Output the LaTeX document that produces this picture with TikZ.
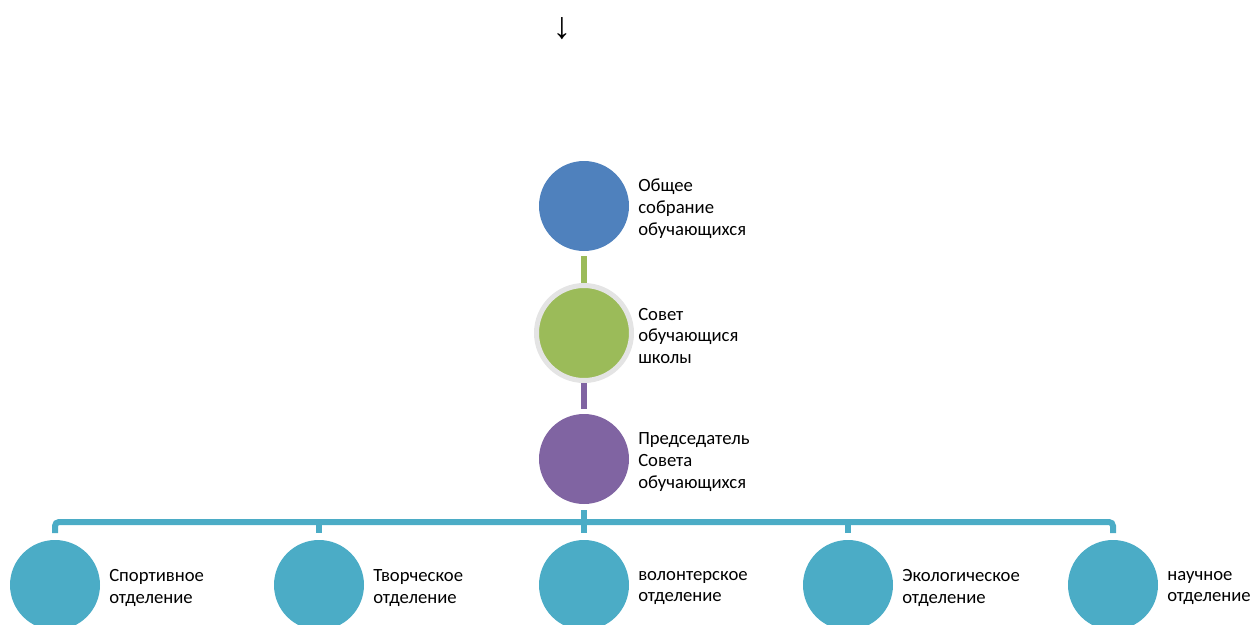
\documentclass[tikz,border=0pt]{standalone}
\usepackage{fontspec}
\setmainfont{Carlito}
\newfontfamily\arrowfont{Liberation Serif}
\definecolor{cblue}{HTML}{4F81BD}
\definecolor{cgreen}{HTML}{9BBB59}
\definecolor{cpurple}{HTML}{8064A2}
\definecolor{cteal}{HTML}{4BACC6}
\definecolor{cring}{HTML}{E4E4E4}
\begin{document}
\begin{tikzpicture}[x=0.75pt,y=-0.75pt,
  disc/.style={circle,draw=none,fill=#1,minimum size=67.5pt,inner sep=0pt,outer sep=0pt},
  ringdisc/.style={circle,draw=cring,line width=3.75pt,fill=#1,minimum size=71.25pt,inner sep=0pt},
  lbl/.style={anchor=west,align=left,inner sep=0pt,font=\fontsize{14pt}{16.4pt}\selectfont},
  link/.style={line width=4.5pt,draw=#1}]
\useasboundingbox (0,0) rectangle (1254,625);
\node[font=\arrowfont\fontsize{28pt}{32pt}\selectfont,inner sep=0pt] (arr) at (562,29) {↓};
\node[disc=cblue] (c1) at (584,206) {};
\node[ringdisc=cgreen] (c2) at (584,333) {};
\node[disc=cpurple] (c3) at (584,459) {};
\node[lbl] (t1) at (638,209) {Общее\\собрание\\обучающихся};
\node[lbl] (t2) at (638,336) {Совет\\обучающися\\школы};
\node[lbl] (t3) at (638,462) {Председатель\\Совета\\обучающихся};
\foreach \i/\x/\t in {1/55/{Спортивное\\отделение},2/319/{Творческое\\отделение},3/584/{волонтерское\\отделение},4/848/{Экологическое\\отделение},5/1113/{научное\\отделение}}{
  \node[disc=cteal] (b\i) at (\x,585) {};
  \node[lbl] (bt\i) at (\x+54,588) {\t};
  \coordinate (j\i) at (\x,522);
}
\draw[link=cgreen,shorten <=3.75pt] (c1) -- (c2);
\draw[link=cpurple,shorten >=3.75pt] (c2) -- (c3);
\draw[link=cteal,shorten <=4.5pt,shorten >=5.25pt] (c3) -- (b3);
\draw[link=cteal,rounded corners=3pt,shorten <=5.25pt,shorten >=5.25pt] (b1.north) |- (j3) -| (b5.north);
\draw[link=cteal,shorten >=5.25pt] (j2) -- (b2.north);
\draw[link=cteal,shorten >=5.25pt] (j4) -- (b4.north);
\end{tikzpicture}
\end{document}
